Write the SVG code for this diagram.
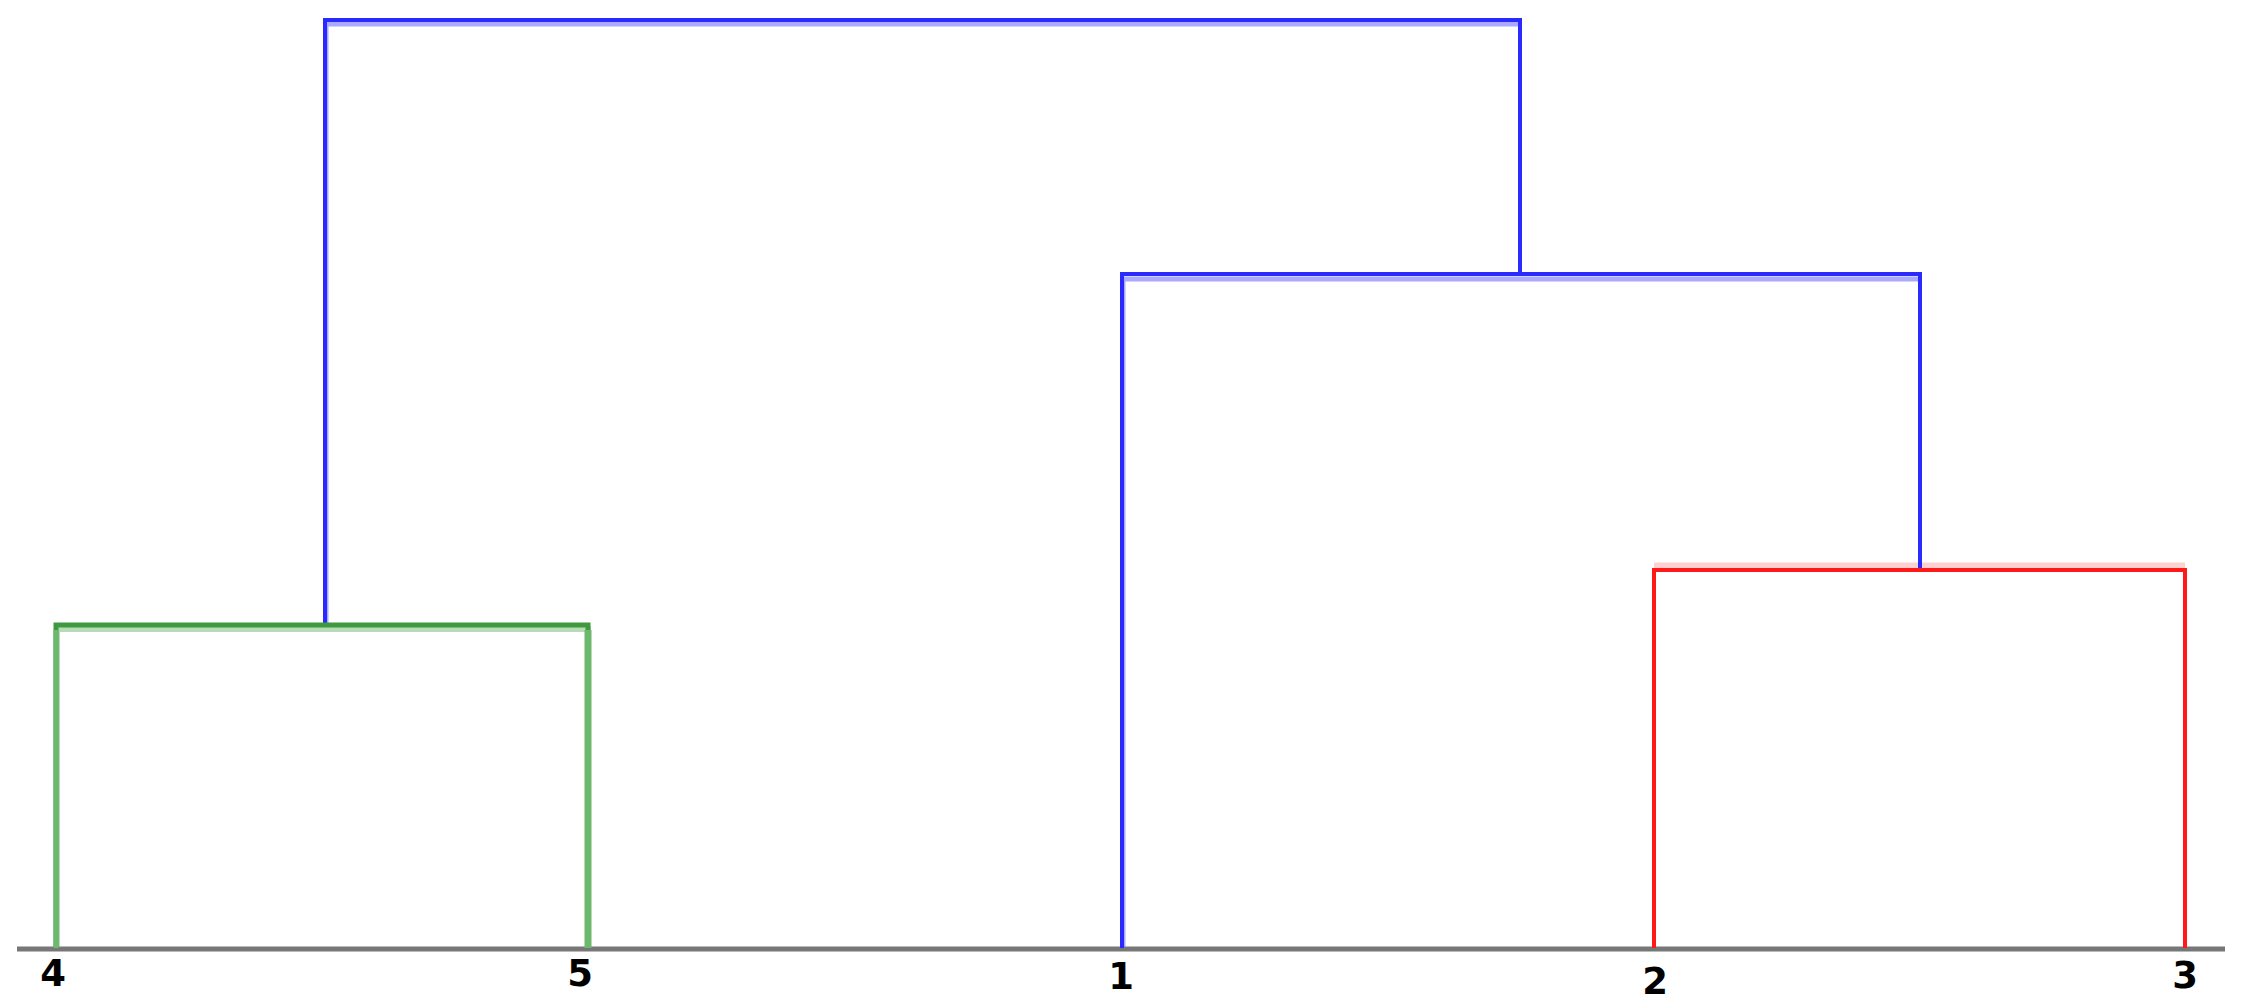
<svg xmlns="http://www.w3.org/2000/svg" width="2242" height="1002" viewBox="0 0 2242 1002">
<style>
.b{stroke:#2a2aff;fill:none;stroke-width:4}
.bh{stroke:#7070ff;fill:none;stroke-width:5;opacity:0.6}
.g{stroke:#3f9a3f;fill:none;stroke-width:5}
.gh{stroke:#6fb86f;fill:none;stroke-width:6;opacity:0.5}
.r{stroke:#ff1a1a;fill:none;stroke-width:4}
.rh{stroke:#ffb0b0;fill:none;stroke-width:7;opacity:0.6}
.axis{stroke:#777;stroke-width:5}
.lbl{font-family:"DejaVu Sans",Verdana,sans-serif;font-weight:bold;font-size:37px;fill:#000;text-anchor:middle}
</style>
<rect width="2242" height="1002" fill="#fff"/>
<g id="connectors">
<line class="axis" x1="17" y1="949" x2="2225" y2="949"/>
<path class="bh" d="M326,623 V24 H1520"/>
<path class="bh" d="M1123,948 V279 H1920"/>
<path class="gh" d="M57,948 V629 H588 V948"/>
<path class="rh" d="M1654,566 H2185"/>
<path class="b" d="M325,625 V20 H1520 V274"/>
<path class="b" d="M1122,948 V274 H1920 V570"/>
<path class="g" d="M56,948 V625 H588 V948"/>
<line x1="56" y1="630" x2="56" y2="948" stroke="#6cb86c" stroke-width="5"/>
<line x1="588" y1="630" x2="588" y2="948" stroke="#6cb86c" stroke-width="7"/>
<path class="r" d="M1654,948 V570 H2185 V948"/>
</g>
<g id="node-4"><text class="lbl" x="53" y="986">4</text></g>
<g id="node-5"><text class="lbl" x="580" y="986">5</text></g>
<g id="node-1"><text class="lbl" x="1121" y="989">1</text></g>
<g id="node-2"><text class="lbl" x="1655" y="994">2</text></g>
<g id="node-3"><text class="lbl" x="2185" y="988">3</text></g>
</svg>
